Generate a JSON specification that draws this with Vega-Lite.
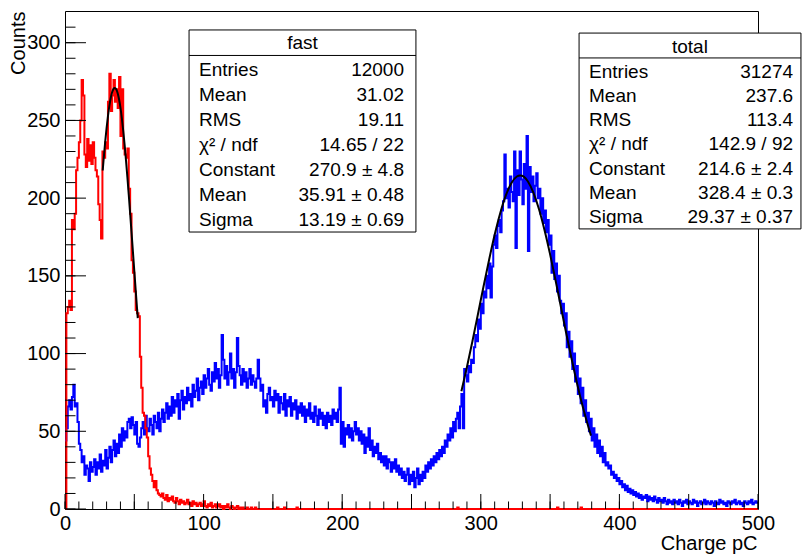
{
"$schema": "https://vega.github.io/schema/vega-lite/v6.json",
"width": 693, "height": 498,
"autosize": "none",
"padding": {"left": 65, "top": 11, "right": 45, "bottom": 45},
"background": "white",
"config": {
 "view": {"stroke": "black", "strokeWidth": 1},
 "font": "Liberation Sans",
 "axis": {"labelColor": "black", "titleColor": "black", "labelFont": "Liberation Sans", "titleFont": "Liberation Sans", "labelFontSize": 20, "titleFontSize": 20, "titleFontWeight": "normal", "grid": false, "labelOverlap": false, "labelFlush": false, "domain": false, "ticks": false},
 "axisX": {"tickCount": 10},
 "axisY": {"tickCount": 7}
},
"datasets": {
 "xt": [{"v":0},{"v":10},{"v":20},{"v":30},{"v":40},{"v":50},{"v":60},{"v":70},{"v":80},{"v":90},{"v":100},{"v":110},{"v":120},{"v":130},{"v":140},{"v":150},{"v":160},{"v":170},{"v":180},{"v":190},{"v":200},{"v":210},{"v":220},{"v":230},{"v":240},{"v":250},{"v":260},{"v":270},{"v":280},{"v":290},{"v":300},{"v":310},{"v":320},{"v":330},{"v":340},{"v":350},{"v":360},{"v":370},{"v":380},{"v":390},{"v":400},{"v":410},{"v":420},{"v":430},{"v":440},{"v":450},{"v":460},{"v":470},{"v":480},{"v":490},{"v":500}],
 "yt": [{"v":0},{"v":10},{"v":20},{"v":30},{"v":40},{"v":50},{"v":60},{"v":70},{"v":80},{"v":90},{"v":100},{"v":110},{"v":120},{"v":130},{"v":140},{"v":150},{"v":160},{"v":170},{"v":180},{"v":190},{"v":200},{"v":210},{"v":220},{"v":230},{"v":240},{"v":250},{"v":260},{"v":270},{"v":280},{"v":290},{"v":300},{"v":310}],
 "tot": [
{"x":0,"c":44},{"x":1,"c":52},{"x":2,"c":66},{"x":3,"c":70},{"x":4,"c":64},{"x":5,"c":72},{"x":6,"c":80},{"x":7,"c":66},{"x":8,"c":68},{"x":9,"c":56},
{"x":10,"c":42},{"x":11,"c":38},{"x":12,"c":30},{"x":13,"c":34},{"x":14,"c":22},{"x":15,"c":28},{"x":16,"c":26},{"x":17,"c":18},{"x":18,"c":30},{"x":19,"c":24},
{"x":20,"c":27},{"x":21,"c":32},{"x":22,"c":22},{"x":23,"c":30},{"x":24,"c":26},{"x":25,"c":35},{"x":26,"c":24},{"x":27,"c":31},{"x":28,"c":28},{"x":29,"c":38},
{"x":30,"c":26},{"x":31,"c":33},{"x":32,"c":40},{"x":33,"c":30},{"x":34,"c":38},{"x":35,"c":44},{"x":36,"c":34},{"x":37,"c":42},{"x":38,"c":36},{"x":39,"c":48},
{"x":40,"c":40},{"x":41,"c":52},{"x":42,"c":44},{"x":43,"c":50},{"x":44,"c":46},{"x":45,"c":56},{"x":46,"c":58},{"x":47,"c":52},{"x":48,"c":59},{"x":49,"c":54},
{"x":50,"c":48},{"x":51,"c":56},{"x":52,"c":42},{"x":53,"c":40},{"x":54,"c":46},{"x":55,"c":52},{"x":56,"c":56},{"x":57,"c":48},{"x":58,"c":60},{"x":59,"c":52},
{"x":60,"c":50},{"x":61,"c":58},{"x":62,"c":54},{"x":63,"c":48},{"x":64,"c":60},{"x":65,"c":56},{"x":66,"c":52},{"x":67,"c":62},{"x":68,"c":50},{"x":69,"c":58},
{"x":70,"c":64},{"x":71,"c":56},{"x":72,"c":62},{"x":73,"c":68},{"x":74,"c":58},{"x":75,"c":66},{"x":76,"c":60},{"x":77,"c":72},{"x":78,"c":62},{"x":79,"c":70},
{"x":80,"c":66},{"x":81,"c":74},{"x":82,"c":58},{"x":83,"c":70},{"x":84,"c":76},{"x":85,"c":64},{"x":86,"c":72},{"x":87,"c":68},{"x":88,"c":78},{"x":89,"c":70},
{"x":90,"c":74},{"x":91,"c":66},{"x":92,"c":80},{"x":93,"c":72},{"x":94,"c":76},{"x":95,"c":84},{"x":96,"c":70},{"x":97,"c":78},{"x":98,"c":82},{"x":99,"c":74},
{"x":100,"c":86},{"x":101,"c":78},{"x":102,"c":84},{"x":103,"c":90},{"x":104,"c":80},{"x":105,"c":76},{"x":106,"c":88},{"x":107,"c":82},{"x":108,"c":94},{"x":109,"c":84},
{"x":110,"c":90},{"x":111,"c":78},{"x":112,"c":86},{"x":113,"c":112},{"x":114,"c":96},{"x":115,"c":84},{"x":116,"c":92},{"x":117,"c":80},{"x":118,"c":88},{"x":119,"c":100},
{"x":120,"c":84},{"x":121,"c":90},{"x":122,"c":78},{"x":123,"c":88},{"x":124,"c":110},{"x":125,"c":92},{"x":126,"c":86},{"x":127,"c":80},{"x":128,"c":90},{"x":129,"c":82},
{"x":130,"c":88},{"x":131,"c":78},{"x":132,"c":84},{"x":133,"c":90},{"x":134,"c":80},{"x":135,"c":86},{"x":136,"c":82},{"x":137,"c":78},{"x":138,"c":84},{"x":139,"c":96},
{"x":140,"c":84},{"x":141,"c":76},{"x":142,"c":80},{"x":143,"c":66},{"x":144,"c":70},{"x":145,"c":62},{"x":146,"c":74},{"x":147,"c":78},{"x":148,"c":70},{"x":149,"c":72},
{"x":150,"c":66},{"x":151,"c":76},{"x":152,"c":70},{"x":153,"c":74},{"x":154,"c":62},{"x":155,"c":72},{"x":156,"c":68},{"x":157,"c":64},{"x":158,"c":74},{"x":159,"c":60},
{"x":160,"c":70},{"x":161,"c":66},{"x":162,"c":72},{"x":163,"c":60},{"x":164,"c":68},{"x":165,"c":64},{"x":166,"c":70},{"x":167,"c":58},{"x":168,"c":66},{"x":169,"c":62},
{"x":170,"c":68},{"x":171,"c":60},{"x":172,"c":66},{"x":173,"c":56},{"x":174,"c":64},{"x":175,"c":60},{"x":176,"c":68},{"x":177,"c":58},{"x":178,"c":62},{"x":179,"c":56},
{"x":180,"c":66},{"x":181,"c":60},{"x":182,"c":54},{"x":183,"c":64},{"x":184,"c":58},{"x":185,"c":62},{"x":186,"c":54},{"x":187,"c":60},{"x":188,"c":52},{"x":189,"c":62},
{"x":190,"c":56},{"x":191,"c":60},{"x":192,"c":54},{"x":193,"c":64},{"x":194,"c":58},{"x":195,"c":62},{"x":196,"c":56},{"x":197,"c":64},{"x":198,"c":78},{"x":199,"c":42},
{"x":200,"c":56},{"x":201,"c":40},{"x":202,"c":52},{"x":203,"c":48},{"x":204,"c":54},{"x":205,"c":46},{"x":206,"c":52},{"x":207,"c":44},{"x":208,"c":50},{"x":209,"c":56},
{"x":210,"c":48},{"x":211,"c":52},{"x":212,"c":44},{"x":213,"c":50},{"x":214,"c":42},{"x":215,"c":48},{"x":216,"c":36},{"x":217,"c":46},{"x":218,"c":40},{"x":219,"c":52},
{"x":220,"c":38},{"x":221,"c":44},{"x":222,"c":34},{"x":223,"c":40},{"x":224,"c":36},{"x":225,"c":42},{"x":226,"c":32},{"x":227,"c":36},{"x":228,"c":30},{"x":229,"c":34},
{"x":230,"c":28},{"x":231,"c":34},{"x":232,"c":26},{"x":233,"c":32},{"x":234,"c":30},{"x":235,"c":24},{"x":236,"c":30},{"x":237,"c":26},{"x":238,"c":32},{"x":239,"c":24},
{"x":240,"c":28},{"x":241,"c":22},{"x":242,"c":26},{"x":243,"c":20},{"x":244,"c":24},{"x":245,"c":18},{"x":246,"c":22},{"x":247,"c":26},{"x":248,"c":16},{"x":249,"c":22},
{"x":250,"c":18},{"x":251,"c":24},{"x":252,"c":14},{"x":253,"c":20},{"x":254,"c":26},{"x":255,"c":16},{"x":256,"c":22},{"x":257,"c":18},{"x":258,"c":24},{"x":259,"c":20},
{"x":260,"c":28},{"x":261,"c":24},{"x":262,"c":30},{"x":263,"c":26},{"x":264,"c":32},{"x":265,"c":28},{"x":266,"c":34},{"x":267,"c":30},{"x":268,"c":36},{"x":269,"c":32},
{"x":270,"c":38},{"x":271,"c":34},{"x":272,"c":40},{"x":273,"c":36},{"x":274,"c":44},{"x":275,"c":40},{"x":276,"c":48},{"x":277,"c":44},{"x":278,"c":52},{"x":279,"c":46},
{"x":280,"c":56},{"x":281,"c":50},{"x":282,"c":58},{"x":283,"c":62},{"x":284,"c":52},{"x":285,"c":66},{"x":286,"c":74},{"x":287,"c":52},{"x":288,"c":90},{"x":289,"c":86},
{"x":290,"c":82},{"x":291,"c":92},{"x":292,"c":88},{"x":293,"c":96},{"x":294,"c":94},{"x":295,"c":104},{"x":296,"c":112},{"x":297,"c":108},{"x":298,"c":122},{"x":299,"c":116},
{"x":300,"c":132},{"x":301,"c":126},{"x":302,"c":140},{"x":303,"c":136},{"x":304,"c":150},{"x":305,"c":142},{"x":306,"c":158},{"x":307,"c":136},{"x":308,"c":156},{"x":309,"c":170},
{"x":310,"c":176},{"x":311,"c":168},{"x":312,"c":182},{"x":313,"c":186},{"x":314,"c":178},{"x":315,"c":192},{"x":316,"c":198},{"x":317,"c":228},{"x":318,"c":200},{"x":319,"c":206},
{"x":320,"c":194},{"x":321,"c":214},{"x":322,"c":204},{"x":323,"c":198},{"x":324,"c":230},{"x":325,"c":168},{"x":326,"c":218},{"x":327,"c":202},{"x":328,"c":230},{"x":329,"c":212},
{"x":330,"c":196},{"x":331,"c":222},{"x":332,"c":206},{"x":333,"c":240},{"x":334,"c":166},{"x":335,"c":220},{"x":336,"c":204},{"x":337,"c":214},{"x":338,"c":198},{"x":339,"c":208},
{"x":340,"c":216},{"x":341,"c":200},{"x":342,"c":206},{"x":343,"c":190},{"x":344,"c":200},{"x":345,"c":184},{"x":346,"c":192},{"x":347,"c":178},{"x":348,"c":186},{"x":349,"c":170},
{"x":350,"c":176},{"x":351,"c":152},{"x":352,"c":166},{"x":353,"c":148},{"x":354,"c":158},{"x":355,"c":140},{"x":356,"c":150},{"x":357,"c":134},{"x":358,"c":126},{"x":359,"c":132},
{"x":360,"c":118},{"x":361,"c":126},{"x":362,"c":104},{"x":363,"c":114},{"x":364,"c":98},{"x":365,"c":108},{"x":366,"c":90},{"x":367,"c":100},{"x":368,"c":82},{"x":369,"c":92},
{"x":370,"c":74},{"x":371,"c":84},{"x":372,"c":68},{"x":373,"c":78},{"x":374,"c":60},{"x":375,"c":70},{"x":376,"c":56},{"x":377,"c":62},{"x":378,"c":50},{"x":379,"c":58},
{"x":380,"c":44},{"x":381,"c":52},{"x":382,"c":40},{"x":383,"c":48},{"x":384,"c":36},{"x":385,"c":44},{"x":386,"c":34},{"x":387,"c":40},{"x":388,"c":30},{"x":389,"c":36},
{"x":390,"c":28},{"x":391,"c":30},{"x":392,"c":26},{"x":393,"c":28},{"x":394,"c":22},{"x":395,"c":24},{"x":396,"c":20},{"x":397,"c":22},{"x":398,"c":18},{"x":399,"c":20},
{"x":400,"c":16},{"x":401,"c":18},{"x":402,"c":14},{"x":403,"c":16},{"x":404,"c":12},{"x":405,"c":15},{"x":406,"c":11},{"x":407,"c":13},{"x":408,"c":10},{"x":409,"c":12},
{"x":410,"c":9},{"x":411,"c":11},{"x":412,"c":8},{"x":413,"c":10},{"x":414,"c":7},{"x":415,"c":9},{"x":416,"c":6},{"x":417,"c":8},{"x":418,"c":7},{"x":419,"c":9},
{"x":420,"c":5},{"x":421,"c":8},{"x":422,"c":6},{"x":423,"c":7},{"x":424,"c":5},{"x":425,"c":8},{"x":426,"c":6},{"x":427,"c":4},{"x":428,"c":7},{"x":429,"c":5},
{"x":430,"c":6},{"x":431,"c":4},{"x":432,"c":7},{"x":433,"c":5},{"x":434,"c":3},{"x":435,"c":6},{"x":436,"c":4},{"x":437,"c":5},{"x":438,"c":3},{"x":439,"c":6},
{"x":440,"c":4},{"x":441,"c":5},{"x":442,"c":3},{"x":443,"c":6},{"x":444,"c":4},{"x":445,"c":2},{"x":446,"c":5},{"x":447,"c":4},{"x":448,"c":6},{"x":449,"c":3},
{"x":450,"c":5},{"x":451,"c":4},{"x":452,"c":3},{"x":453,"c":6},{"x":454,"c":4},{"x":455,"c":5},{"x":456,"c":2},{"x":457,"c":4},{"x":458,"c":5},{"x":459,"c":3},
{"x":460,"c":4},{"x":461,"c":6},{"x":462,"c":3},{"x":463,"c":5},{"x":464,"c":4},{"x":465,"c":3},{"x":466,"c":5},{"x":467,"c":4},{"x":468,"c":2},{"x":469,"c":5},
{"x":470,"c":4},{"x":471,"c":3},{"x":472,"c":6},{"x":473,"c":4},{"x":474,"c":5},{"x":475,"c":3},{"x":476,"c":4},{"x":477,"c":2},{"x":478,"c":5},{"x":479,"c":4},
{"x":480,"c":3},{"x":481,"c":5},{"x":482,"c":4},{"x":483,"c":6},{"x":484,"c":3},{"x":485,"c":4},{"x":486,"c":5},{"x":487,"c":3},{"x":488,"c":4},{"x":489,"c":2},
{"x":490,"c":5},{"x":491,"c":4},{"x":492,"c":3},{"x":493,"c":5},{"x":494,"c":4},{"x":495,"c":6},{"x":496,"c":3},{"x":497,"c":4},{"x":498,"c":5},{"x":499,"c":4},
{"x":500,"c":4}
 ],
 "fast": [
{"x":0,"c":0},{"x":1,"c":126},{"x":2,"c":130},{"x":3,"c":134},{"x":4,"c":128},{"x":5,"c":186},{"x":6,"c":180},{"x":7,"c":190},{"x":8,"c":218},{"x":9,"c":226},
{"x":10,"c":236},{"x":11,"c":250},{"x":12,"c":276},{"x":13,"c":266},{"x":14,"c":228},{"x":15,"c":220},{"x":16,"c":238},{"x":17,"c":224},{"x":18,"c":234},{"x":19,"c":222},
{"x":20,"c":236},{"x":21,"c":226},{"x":22,"c":218},{"x":23,"c":214},{"x":24,"c":196},{"x":25,"c":186},{"x":26,"c":174},{"x":27,"c":230},{"x":28,"c":226},{"x":29,"c":236},
{"x":30,"c":232},{"x":31,"c":262},{"x":32,"c":280},{"x":33,"c":256},{"x":34,"c":266},{"x":35,"c":276},{"x":36,"c":262},{"x":37,"c":270},{"x":38,"c":258},{"x":39,"c":278},
{"x":40,"c":240},{"x":41,"c":270},{"x":42,"c":232},{"x":43,"c":228},{"x":44,"c":226},{"x":45,"c":232},{"x":46,"c":206},{"x":47,"c":190},{"x":48,"c":160},{"x":49,"c":152},
{"x":50,"c":140},{"x":51,"c":128},{"x":52,"c":126},{"x":53,"c":124},{"x":54,"c":98},{"x":55,"c":78},{"x":56,"c":62},{"x":57,"c":60},{"x":58,"c":52},{"x":59,"c":46},
{"x":60,"c":34},{"x":61,"c":26},{"x":62,"c":22},{"x":63,"c":18},{"x":64,"c":14},{"x":65,"c":18},{"x":66,"c":12},{"x":67,"c":10},{"x":68,"c":9},{"x":69,"c":8},
{"x":70,"c":10},{"x":71,"c":7},{"x":72,"c":6},{"x":73,"c":9},{"x":74,"c":5},{"x":75,"c":7},{"x":76,"c":6},{"x":77,"c":8},{"x":78,"c":5},{"x":79,"c":4},
{"x":80,"c":7},{"x":81,"c":5},{"x":82,"c":3},{"x":83,"c":6},{"x":84,"c":4},{"x":85,"c":5},{"x":86,"c":3},{"x":87,"c":4},{"x":88,"c":6},{"x":89,"c":3},
{"x":90,"c":4},{"x":91,"c":2},{"x":92,"c":5},{"x":93,"c":3},{"x":94,"c":4},{"x":95,"c":2},{"x":96,"c":3},{"x":97,"c":4},{"x":98,"c":2},{"x":99,"c":3},
{"x":100,"c":5},{"x":101,"c":2},{"x":102,"c":1},{"x":103,"c":3},{"x":104,"c":2},{"x":105,"c":4},{"x":106,"c":1},{"x":107,"c":2},{"x":108,"c":3},{"x":109,"c":1},
{"x":110,"c":2},{"x":111,"c":3},{"x":112,"c":1},{"x":113,"c":2},{"x":114,"c":0},{"x":115,"c":2},{"x":116,"c":1},{"x":117,"c":3},{"x":118,"c":1},{"x":119,"c":0},
{"x":120,"c":2},{"x":121,"c":1},{"x":122,"c":0},{"x":123,"c":1},{"x":124,"c":2},{"x":125,"c":0},{"x":126,"c":1},{"x":127,"c":0},{"x":128,"c":1},{"x":129,"c":0},
{"x":130,"c":0},{"x":131,"c":1},{"x":132,"c":0},{"x":134,"c":1},{"x":135,"c":0},{"x":137,"c":1},{"x":138,"c":0},
{"x":153,"c":1},{"x":154,"c":0},{"x":158,"c":1},{"x":159,"c":0},{"x":167,"c":1},{"x":168,"c":0},{"x":283,"c":1},{"x":284,"c":0},{"x":355,"c":1},{"x":356,"c":0},{"x":372,"c":1},{"x":373,"c":0},{"x":500,"c":0}
 ],
 "fitf": [
{"x":27.2,"c":217.8},{"x":28,"c":226.3},{"x":29,"c":236.2},{"x":30,"c":245.0},{"x":31,"c":252.8},{"x":32,"c":259.3},{"x":33,"c":264.4},{"x":34,"c":268.1},{"x":35,"c":270.3},{"x":35.91,"c":270.9},{"x":37,"c":270.0},{"x":38,"c":267.5},{"x":39,"c":263.6},{"x":40,"c":258.2},{"x":41,"c":251.5},{"x":42,"c":243.5},{"x":43,"c":234.5},{"x":44,"c":224.5},{"x":45,"c":213.6},{"x":46,"c":202.2},{"x":47,"c":190.2},{"x":48,"c":178.0},{"x":49,"c":165.6},{"x":50,"c":153.1},{"x":51,"c":140.8},{"x":52,"c":128.7},{"x":52.5,"c":122.8}
 ],
 "fitt": [
{"x":286,"c":75.7},{"x":290,"c":91.3},{"x":294,"c":108.1},{"x":298,"c":125.6},{"x":302,"c":143.3},{"x":306,"c":160.4},{"x":310,"c":176.4},{"x":314,"c":190.3},{"x":318,"c":201.6},{"x":322,"c":209.6},{"x":326,"c":213.9},{"x":328.4,"c":214.6},{"x":331,"c":213.8},{"x":334,"c":210.7},{"x":338,"c":203.4},{"x":342,"c":192.8},{"x":346,"c":179.3},{"x":350,"c":163.8},{"x":354,"c":146.8},{"x":358,"c":129.1},{"x":362,"c":111.5},{"x":366,"c":94.6},{"x":370,"c":78.7},{"x":374,"c":64.3},{"x":378,"c":51.6},{"x":379.5,"c":47.2}
 ],
 "statf": [{"t":"fast","k":["Entries","Mean","RMS","χ² / ndf","Constant","Mean","Sigma"],"v":["12000","31.02","19.11","14.65 / 22","270.9 ± 4.8","35.91 ± 0.48","13.19 ± 0.69"]}],
 "statt": [{"t":"total","k":["Entries","Mean","RMS","χ² / ndf","Constant","Mean","Sigma"],"v":["31274","237.6","113.4","142.9 / 92","214.6 ± 2.4","328.4 ± 0.3","29.37 ± 0.37"]}]
},
"layer": [
 {"data": {"name": "tot"},
  "mark": {"type": "line", "interpolate": "step-after", "color": "#0000ff", "strokeWidth": 2},
  "encoding": {
   "x": {"field": "x", "type": "quantitative", "title": "Charge pC", "scale": {"domain": [0, 500], "nice": false, "zero": false},
    "axis": {"orient": "bottom", "domain": false, "ticks": false, "values": [0,50,100,150,200,250,300,350,400,450,500], "labelPadding": 4, "labelOverlap": false, "labelFlush": false, "title": "Charge pC", "titleX": 692, "titleY": 34, "titleAlign": "right", "titleBaseline": "middle", "titleAnchor": "end"}},
   "y": {"field": "c", "type": "quantitative", "title": "Counts", "scale": {"domain": [0, 320.4], "nice": false, "zero": false},
    "axis": {"orient": "left", "domain": false, "ticks": false, "values": [0,50,100,150,200,250,300], "labelPadding": 5, "labelOverlap": false, "labelFlush": false, "title": "Counts", "titleX": -47, "titleY": 0, "titleAngle": -90, "titleAlign": "right", "titleBaseline": "middle", "titleAnchor": "end"}}
  }},
 {"data": {"name": "fast"},
  "mark": {"type": "line", "interpolate": "step-after", "color": "#ff0000", "strokeWidth": 2},
  "encoding": {
   "x": {"field": "x", "type": "quantitative", "title": "Charge pC",
    "axis": {"orient": "bottom", "domain": false, "ticks": false, "values": [0,50,100,150,200,250,300,350,400,450,500], "labelPadding": 4, "labelOverlap": false, "labelFlush": false, "title": "Charge pC", "titleX": 692, "titleY": 34, "titleAlign": "right", "titleBaseline": "middle", "titleAnchor": "end"}},
   "y": {"field": "c", "type": "quantitative", "title": "Counts",
    "axis": {"orient": "left", "domain": false, "ticks": false, "values": [0,50,100,150,200,250,300], "labelPadding": 5, "labelOverlap": false, "labelFlush": false, "title": "Counts", "titleX": -47, "titleY": 0, "titleAngle": -90, "titleAlign": "right", "titleBaseline": "middle", "titleAnchor": "end"}}
  }},
 {"data": {"name": "fitf"},
  "mark": {"type": "line", "interpolate": "monotone", "color": "black", "strokeWidth": 2},
  "encoding": {
   "x": {"field": "x", "type": "quantitative", "title": "Charge pC",
    "axis": {"orient": "bottom", "domain": false, "ticks": false, "values": [0,50,100,150,200,250,300,350,400,450,500], "labelPadding": 4, "labelOverlap": false, "labelFlush": false, "title": "Charge pC", "titleX": 692, "titleY": 34, "titleAlign": "right", "titleBaseline": "middle", "titleAnchor": "end"}},
   "y": {"field": "c", "type": "quantitative", "title": "Counts",
    "axis": {"orient": "left", "domain": false, "ticks": false, "values": [0,50,100,150,200,250,300], "labelPadding": 5, "labelOverlap": false, "labelFlush": false, "title": "Counts", "titleX": -47, "titleY": 0, "titleAngle": -90, "titleAlign": "right", "titleBaseline": "middle", "titleAnchor": "end"}}
  }},
 {"data": {"name": "fitt"},
  "mark": {"type": "line", "interpolate": "monotone", "color": "black", "strokeWidth": 2},
  "encoding": {
   "x": {"field": "x", "type": "quantitative", "title": "Charge pC",
    "axis": {"orient": "bottom", "domain": false, "ticks": false, "values": [0,50,100,150,200,250,300,350,400,450,500], "labelPadding": 4, "labelOverlap": false, "labelFlush": false, "title": "Charge pC", "titleX": 692, "titleY": 34, "titleAlign": "right", "titleBaseline": "middle", "titleAnchor": "end"}},
   "y": {"field": "c", "type": "quantitative", "title": "Counts",
    "axis": {"orient": "left", "domain": false, "ticks": false, "values": [0,50,100,150,200,250,300], "labelPadding": 5, "labelOverlap": false, "labelFlush": false, "title": "Counts", "titleX": -47, "titleY": 0, "titleAngle": -90, "titleAlign": "right", "titleBaseline": "middle", "titleAnchor": "end"}}
  }},
 {"data": {"name": "xt"},
  "mark": {"type": "rule", "color": "black", "strokeWidth": 1},
  "encoding": {"x": {"field": "v", "type": "quantitative", "title": "Charge pC"}, "y": {"datum": 0, "type": "quantitative", "title": "Counts"}, "y2": {"datum": 4.83}}},
 {"data": {"name": "xt"},
  "transform": [{"filter": "datum.v % 50 === 0"}],
  "mark": {"type": "rule", "color": "black", "strokeWidth": 1},
  "encoding": {"x": {"field": "v", "type": "quantitative", "title": "Charge pC"}, "y": {"datum": 0, "type": "quantitative", "title": "Counts"}, "y2": {"datum": 9.65}}},
 {"data": {"name": "yt"},
  "mark": {"type": "rule", "color": "black", "strokeWidth": 1},
  "encoding": {"y": {"field": "v", "type": "quantitative", "title": "Counts"}, "x": {"datum": 0, "type": "quantitative", "title": "Charge pC"}, "x2": {"datum": 7.58}}},
 {"data": {"name": "yt"},
  "transform": [{"filter": "datum.v % 50 === 0"}],
  "mark": {"type": "rule", "color": "black", "strokeWidth": 1},
  "encoding": {"y": {"field": "v", "type": "quantitative", "title": "Counts"}, "x": {"datum": 0, "type": "quantitative", "title": "Charge pC"}, "x2": {"datum": 15.15}}},
 {"data": {"name": "statf"},
  "mark": {"type": "rect", "fill": "white", "stroke": "black", "strokeWidth": 1},
  "encoding": {"x": {"datum": 89.5, "type": "quantitative", "title": "Charge pC"}, "x2": {"datum": 253.2}, "y": {"datum": 308.2, "type": "quantitative", "title": "Counts"}, "y2": {"datum": 178.2}}},
 {"data": {"name": "statf"},
  "mark": {"type": "rule", "color": "black", "strokeWidth": 1},
  "encoding": {"x": {"datum": 89.5, "type": "quantitative", "title": "Charge pC"}, "x2": {"datum": 253.2}, "y": {"datum": 291.8, "type": "quantitative", "title": "Counts"}}},
 {"data": {"name": "statf"},
  "mark": {"type": "text", "align": "center", "baseline": "alphabetic", "fontSize": 19, "font": "Liberation Sans", "color": "black"},
  "encoding": {"x": {"datum": 171.4, "type": "quantitative", "title": "Charge pC"}, "y": {"datum": 296.0, "type": "quantitative", "title": "Counts"}, "text": {"field": "t", "type": "nominal"}}},
 {"data": {"name": "statf"},
  "mark": {"type": "text", "align": "left", "baseline": "alphabetic", "fontSize": 19, "lineHeight": 25, "font": "Liberation Sans", "color": "black"},
  "encoding": {"x": {"datum": 96.7, "type": "quantitative", "title": "Charge pC"}, "y": {"datum": 278.8, "type": "quantitative", "title": "Counts"}, "text": {"field": "k", "type": "nominal"}}},
 {"data": {"name": "statf"},
  "mark": {"type": "text", "align": "right", "baseline": "alphabetic", "fontSize": 19, "lineHeight": 25, "font": "Liberation Sans", "color": "black"},
  "encoding": {"x": {"datum": 244.6, "type": "quantitative", "title": "Charge pC"}, "y": {"datum": 278.8, "type": "quantitative", "title": "Counts"}, "text": {"field": "v", "type": "nominal"}}},
 {"data": {"name": "statt"},
  "mark": {"type": "rect", "fill": "white", "stroke": "black", "strokeWidth": 1},
  "encoding": {"x": {"datum": 370.9, "type": "quantitative", "title": "Charge pC"}, "x2": {"datum": 531.0}, "y": {"datum": 306.2, "type": "quantitative", "title": "Counts"}, "y2": {"datum": 180.2}}},
 {"data": {"name": "statt"},
  "mark": {"type": "rule", "color": "black", "strokeWidth": 1},
  "encoding": {"x": {"datum": 370.9, "type": "quantitative", "title": "Charge pC"}, "x2": {"datum": 531.0}, "y": {"datum": 290.2, "type": "quantitative", "title": "Counts"}}},
 {"data": {"name": "statt"},
  "mark": {"type": "text", "align": "center", "baseline": "alphabetic", "fontSize": 19, "font": "Liberation Sans", "color": "black"},
  "encoding": {"x": {"datum": 450.9, "type": "quantitative", "title": "Charge pC"}, "y": {"datum": 293.7, "type": "quantitative", "title": "Counts"}, "text": {"field": "t", "type": "nominal"}}},
 {"data": {"name": "statt"},
  "mark": {"type": "text", "align": "left", "baseline": "alphabetic", "fontSize": 19, "lineHeight": 24.3, "font": "Liberation Sans", "color": "black"},
  "encoding": {"x": {"datum": 378.1, "type": "quantitative", "title": "Charge pC"}, "y": {"datum": 277.6, "type": "quantitative", "title": "Counts"}, "text": {"field": "k", "type": "nominal"}}},
 {"data": {"name": "statt"},
  "mark": {"type": "text", "align": "right", "baseline": "alphabetic", "fontSize": 19, "lineHeight": 24.3, "font": "Liberation Sans", "color": "black"},
  "encoding": {"x": {"datum": 525.3, "type": "quantitative", "title": "Charge pC"}, "y": {"datum": 277.6, "type": "quantitative", "title": "Counts"}, "text": {"field": "v", "type": "nominal"}}}
]
}
